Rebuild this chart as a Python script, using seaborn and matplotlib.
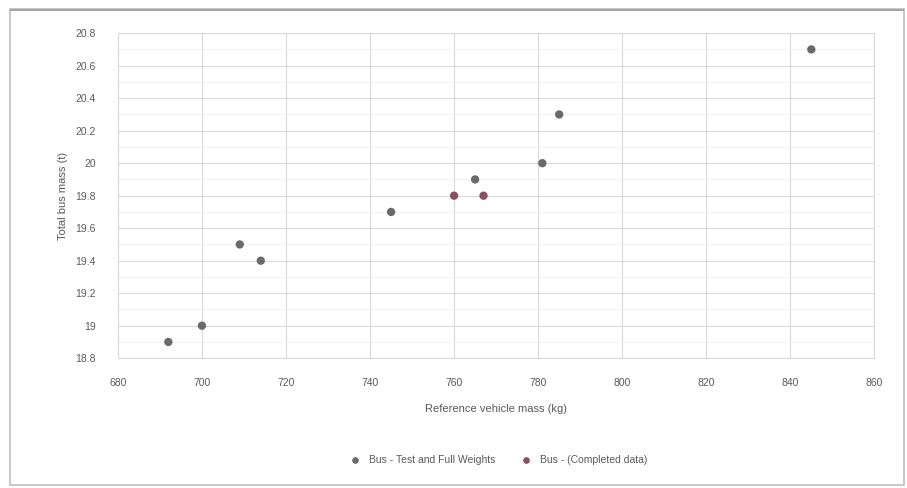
import matplotlib
matplotlib.use("Agg")
import matplotlib.pyplot as plt
import seaborn as sns
import pandas as pd
from matplotlib.patches import Rectangle
from matplotlib.ticker import MultipleLocator

# Data
series1_name = "Bus - Test and Full Weights"
series1_x = [692, 700, 709, 714, 745, 765, 781, 785, 845]
series1_y = [18.9, 19.0, 19.5, 19.4, 19.7, 19.9, 20.0, 20.3, 20.7]

series2_name = "Bus - (Completed data)"
series2_x = [760, 767]
series2_y = [19.8, 19.8]

x_label = "Reference vehicle mass (kg)"
y_label = "Total bus mass (t)"

x_ticks = [680, 700, 720, 740, 760, 780, 800, 820, 840, 860]
y_ticks = [18.8, 19.0, 19.2, 19.4, 19.6, 19.8, 20.0, 20.2, 20.4, 20.6, 20.8]

df = pd.DataFrame({
    "x": series1_x + series2_x,
    "y": series1_y + series2_y,
    "series": [series1_name] * len(series1_x) + [series2_name] * len(series2_x),
})

sns.set_theme(style="white")
plt.rcParams["font.family"] = ["Liberation Sans", "DejaVu Sans"]

fig = plt.figure(figsize=(9.07, 4.88), dpi=100)
ax = fig.add_axes([0.130, 0.266, 0.834, 0.666])

sns.scatterplot(
    data=df, x="x", y="y", hue="series",
    palette={series1_name: "#6a6a6a", series2_name: "#8a4f63"},
    s=36, edgecolor="none", ax=ax, zorder=3,
)

ax.set_xlim(x_ticks[0], x_ticks[-1])
ax.set_ylim(y_ticks[0], y_ticks[-1])
ax.set_xticks(x_ticks)
ax.set_yticks(y_ticks)
ax.set_xticklabels([str(v) for v in x_ticks])
ax.set_yticklabels([("%g" % v) for v in y_ticks])
ax.yaxis.set_minor_locator(MultipleLocator(0.1))

ax.grid(True, which="major", color="#d9d9d9", linewidth=0.8, zorder=0)
ax.grid(True, which="minor", axis="y", color="#efefef", linewidth=0.6, zorder=0)
for sp in ax.spines.values():
    sp.set_color("#d9d9d9")
    sp.set_linewidth(0.8)

ax.tick_params(axis="x", which="both", length=0, labelsize=7.5,
               labelcolor="#595959", pad=14)
ax.tick_params(axis="y", which="both", length=0, labelsize=7.5,
               labelcolor="#595959", pad=16)
ax.set_xlabel(x_label, fontsize=8, color="#595959", labelpad=12)
ax.set_ylabel(y_label, fontsize=8, color="#595959", labelpad=5)

leg = ax.legend(
    loc="upper center", bbox_to_anchor=(0.5, -0.27), ncol=2,
    frameon=False, fontsize=7.5, handletextpad=0.3, columnspacing=2.0,
    markerscale=0.8,
)
for t in leg.get_texts():
    t.set_color("#595959")

fig.patches.append(Rectangle((0.011, 0.006), 0.986, 0.975, transform=fig.transFigure,
                             fill=False, edgecolor="#bfbfbf", linewidth=1.2))
fig.patches.append(Rectangle((0.011, 0.978), 0.986, 0.004, transform=fig.transFigure,
                             fill=True, facecolor="#a6a6a6", edgecolor="none"))

fig.savefig("out.png", dpi=100, facecolor="white")
